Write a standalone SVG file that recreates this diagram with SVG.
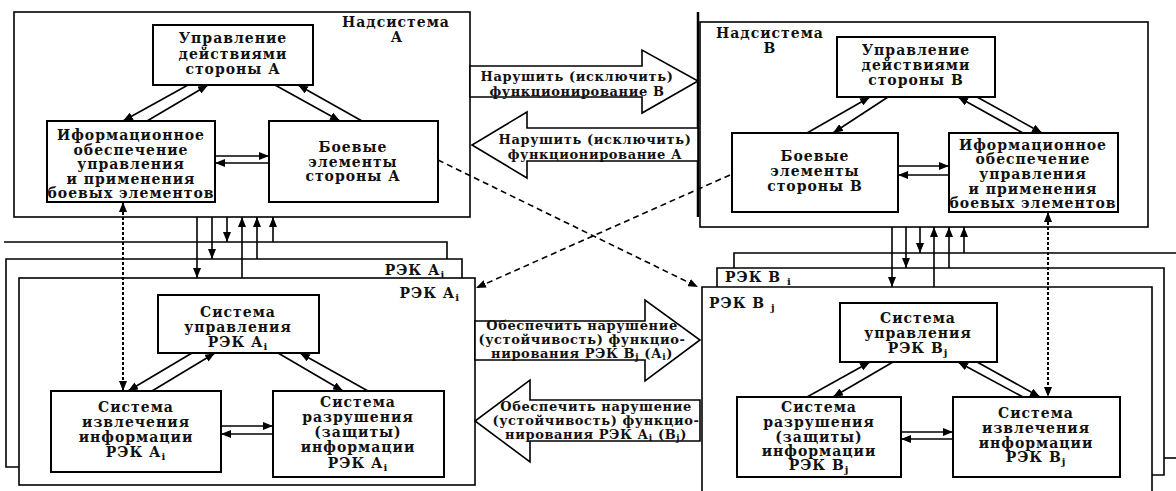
<svg xmlns="http://www.w3.org/2000/svg" width="1176" height="491" viewBox="0 0 1176 491">
<style>
.box{fill:#fff;stroke:#000;stroke-width:2}
.fr{fill:none;stroke:#000;stroke-width:1.6}
.frw{fill:#fff;stroke:#000;stroke-width:1.6}
.ln{stroke:#000;stroke-width:1.6;fill:none}
.dash{stroke-dasharray:6 4}
.dot{stroke-dasharray:3 2;stroke-width:2}
.big{fill:#fff;stroke:#000;stroke-width:1.6}
.t{font-family:"DejaVu Serif","Liberation Serif",serif;font-weight:bold;font-size:14px;letter-spacing:1px;text-anchor:middle;fill:#111}
.s{font-size:13px;letter-spacing:0.6px}
.l{text-anchor:start}
</style>
<defs>
<marker id="ah" viewBox="0 0 10 8" refX="10" refY="4" markerWidth="10" markerHeight="8" markerUnits="userSpaceOnUse" orient="auto-start-reverse"><path d="M0,0 L10,4 L0,8 z" fill="#000"/></marker>
</defs>
<rect width="1176" height="491" fill="#fff"/>

<g id="nadsystem-A">
<rect class="fr" x="14" y="12" width="456" height="205"/>
<text class="t"><tspan x="396" y="27">Надсистема</tspan><tspan x="397" y="42">А</tspan></text>
</g>
<line x1="698" y1="12" x2="698" y2="217" stroke="#000" stroke-width="2.5"/>
<g id="nadsystem-B">
<rect class="fr" x="700" y="22" width="448" height="205"/>
<text class="t"><tspan x="770" y="38">Надсистема</tspan><tspan x="770" y="53">В</tspan></text>
</g>

<g id="rek-A-stack">
<path class="fr" d="M4,242 H447 V259"/>
<path class="fr" d="M19,467 H6 V259 H462 V278"/>
<text class="t" x="445" y="275" text-anchor="end" style="text-anchor:end">РЭК А<tspan font-size="10" dy="3">j</tspan></text>
</g>
<g id="rek-Ai">
<rect class="frw" x="19" y="278" width="456" height="207"/>
<text class="t" x="460" y="298" style="text-anchor:end">РЭК А<tspan font-size="10" dy="3">i</tspan></text>
</g>
<g id="rek-B-stack">
<path class="fr" d="M734,268 V253 H1176"/>
<path class="fr" d="M1164,458 H1176"/>
<path class="fr" d="M717,287 V268 H1164 V475 H1152"/>
<text class="t l" x="725" y="282" style="text-anchor:start">РЭК В <tspan font-size="10" dy="3">i</tspan></text>
</g>
<g id="rek-Bj">
<path class="frw" d="M702,491 V287 H1152 V491"/>
<text class="t" x="709" y="308" style="text-anchor:start">РЭК В <tspan font-size="10" dy="3">j</tspan></text>
</g>

<g id="arrow-disrupt-B">
<path class="big" d="M470,66 H642 V50 L698,81 L642,113 V97 H470 Z"/>
<text class="t s"><tspan x="577" y="81">Нарушить (исключить)</tspan><tspan x="577" y="96">функционирование В</tspan></text>
</g>
<g id="arrow-disrupt-A">
<path class="big" d="M698,128 H527 V112 L472,145 L527,178 V161 H698 Z"/>
<text class="t s"><tspan x="595" y="144">Нарушить (исключить)</tspan><tspan x="595" y="159">функционирование А</tspan></text>
</g>
<g id="arrow-ensure-B">
<path class="big" d="M475,321 H645 V300 L700,340 L645,381 V360 H475 Z"/>
<text class="t s"><tspan x="582" y="330">Обеспечить нарушение</tspan><tspan x="582" y="344">(устойчивость) функцио-</tspan><tspan x="582" y="358">нирования РЭК В<tspan font-size="9" dy="2">j</tspan><tspan dy="-2"> (А</tspan><tspan font-size="9" dy="2">i</tspan><tspan dy="-2">)</tspan></tspan></text>
</g>
<g id="arrow-ensure-A">
<path class="big" d="M700,400 H530 V380 L475,421 L530,462 V441 H700 Z"/>
<text class="t s"><tspan x="596" y="411">Обеспечить нарушение</tspan><tspan x="596" y="425">(устойчивость) функцио-</tspan><tspan x="596" y="439">нирования РЭК А<tspan font-size="9" dy="2">i</tspan><tspan dy="-2"> (В</tspan><tspan font-size="9" dy="2">j</tspan><tspan dy="-2">)</tspan></tspan></text>
</g>

<g id="upr-A">
<rect class="box" x="153" y="25" width="160" height="60"/>
<text class="t"><tspan x="233" y="43">Управление</tspan><tspan x="233" y="59">действиями</tspan><tspan x="233" y="74">стороны А</tspan></text>
</g>
<g id="info-A">
<rect class="box" x="47" y="121" width="168" height="81"/>
<text class="t"><tspan x="131" y="140">Иформационное</tspan><tspan x="131" y="155">обеспечение</tspan><tspan x="131" y="169">управления</tspan><tspan x="131" y="184">и применения</tspan><tspan x="131" y="198">боевых элементов</tspan></text>
</g>
<g id="boevye-A">
<rect class="box" x="269" y="121" width="169" height="81"/>
<text class="t"><tspan x="353" y="152">Боевые</tspan><tspan x="353" y="167">элементы</tspan><tspan x="353" y="181">стороны А</tspan></text>
</g>
<g id="upr-B">
<rect class="box" x="837" y="37" width="158" height="60"/>
<text class="t"><tspan x="916" y="55">Управление</tspan><tspan x="916" y="70">действиями</tspan><tspan x="916" y="85">стороны В</tspan></text>
</g>
<g id="boevye-B">
<rect class="box" x="732" y="133" width="166" height="79"/>
<text class="t"><tspan x="815" y="161">Боевые</tspan><tspan x="815" y="176">элементы</tspan><tspan x="815" y="191">стороны В</tspan></text>
</g>
<g id="info-B">
<rect class="box" x="949" y="133" width="169" height="79"/>
<text class="t"><tspan x="1033" y="150">Иформационное</tspan><tspan x="1033" y="164">обеспечение</tspan><tspan x="1033" y="179">управления</tspan><tspan x="1033" y="194">и применения</tspan><tspan x="1033" y="208">боевых элементов</tspan></text>
</g>

<g id="upr-rek-A">
<rect class="box" x="158" y="295" width="161" height="58"/>
<text class="t"><tspan x="238" y="317">Система</tspan><tspan x="238" y="332">управления</tspan><tspan x="238" y="347">РЭК А<tspan font-size="10" dy="3">i</tspan></tspan></text>
</g>
<g id="izvl-A">
<rect class="box" x="51" y="391" width="170" height="81"/>
<text class="t"><tspan x="136" y="412">Система</tspan><tspan x="136" y="427">извлечения</tspan><tspan x="136" y="442">информации</tspan><tspan x="136" y="457">РЭК А<tspan font-size="10" dy="3">i</tspan></tspan></text>
</g>
<g id="razr-A">
<rect class="box" x="273" y="391" width="171" height="86"/>
<text class="t"><tspan x="358" y="407">Система</tspan><tspan x="358" y="422">разрушения</tspan><tspan x="358" y="437">(защиты)</tspan><tspan x="358" y="452">информации</tspan><tspan x="358" y="468">РЭК А<tspan font-size="10" dy="3">i</tspan></tspan></text>
</g>
<g id="upr-rek-B">
<rect class="box" x="840" y="303" width="157" height="59"/>
<text class="t"><tspan x="918" y="323">Система</tspan><tspan x="918" y="338">управления</tspan><tspan x="918" y="353">РЭК В<tspan font-size="10" dy="3">j</tspan></tspan></text>
</g>
<g id="razr-B">
<rect class="box" x="737" y="397" width="164" height="80"/>
<text class="t"><tspan x="819" y="412">Система</tspan><tspan x="819" y="427">разрушения</tspan><tspan x="819" y="442">(защиты)</tspan><tspan x="819" y="456">информации</tspan><tspan x="819" y="470">РЭК В<tspan font-size="10" dy="3">j</tspan></tspan></text>
</g>
<g id="izvl-B">
<rect class="box" x="953" y="397" width="167" height="80"/>
<text class="t"><tspan x="1036" y="418">Система</tspan><tspan x="1036" y="433">извлечения</tspan><tspan x="1036" y="448">информации</tspan><tspan x="1036" y="462">РЭК В<tspan font-size="10" dy="3">j</tspan></tspan></text>
</g>

<g id="connectors" class="ln" marker-end="url(#ah)">
<line x1="188" y1="85" x2="123" y2="121"/>
<line x1="147" y1="121" x2="208" y2="85"/>
<line x1="275" y1="85" x2="340" y2="121"/>
<line x1="362" y1="121" x2="298" y2="85"/>
<line x1="215" y1="156" x2="269" y2="156"/>
<line x1="269" y1="163" x2="215" y2="163"/>
<line class="dot" x1="123" y1="202" x2="123" y2="391" marker-start="url(#ah)"/>
<line x1="197" y1="217" x2="197" y2="278"/>
<line x1="212" y1="217" x2="212" y2="259"/>
<line x1="227" y1="217" x2="227" y2="242"/>
<line x1="242" y1="278" x2="242" y2="217"/>
<line x1="257" y1="259" x2="257" y2="217"/>
<line x1="273" y1="242" x2="273" y2="217"/>
<line x1="807" y1="133" x2="870" y2="97"/>
<line x1="888" y1="97" x2="833" y2="133"/>
<line x1="1023" y1="133" x2="958" y2="97"/>
<line x1="977" y1="97" x2="1042" y2="133"/>
<line x1="898" y1="166" x2="949" y2="166"/>
<line x1="949" y1="175" x2="898" y2="175"/>
<line class="dot" x1="1048" y1="212" x2="1048" y2="397" marker-start="url(#ah)"/>
<line x1="892" y1="227" x2="892" y2="287"/>
<line x1="906" y1="227" x2="906" y2="268"/>
<line x1="920" y1="227" x2="920" y2="253"/>
<line x1="934" y1="287" x2="934" y2="227"/>
<line x1="949" y1="268" x2="949" y2="227"/>
<line x1="964" y1="253" x2="964" y2="227"/>
<line class="dash" x1="438" y1="160" x2="698" y2="287"/>
<line class="dash" x1="730" y1="175" x2="476" y2="288"/>
<line x1="192" y1="353" x2="128" y2="391"/>
<line x1="152" y1="391" x2="215" y2="353"/>
<line x1="278" y1="353" x2="343" y2="391"/>
<line x1="368" y1="391" x2="300" y2="353"/>
<line x1="221" y1="426" x2="273" y2="426"/>
<line x1="273" y1="434" x2="221" y2="434"/>
<line x1="807" y1="397" x2="870" y2="362"/>
<line x1="893" y1="362" x2="833" y2="397"/>
<line x1="1023" y1="397" x2="958" y2="362"/>
<line x1="977" y1="362" x2="1040" y2="397"/>
<line x1="901" y1="432" x2="953" y2="432"/>
<line x1="953" y1="439" x2="901" y2="439"/>
</g>
</svg>
